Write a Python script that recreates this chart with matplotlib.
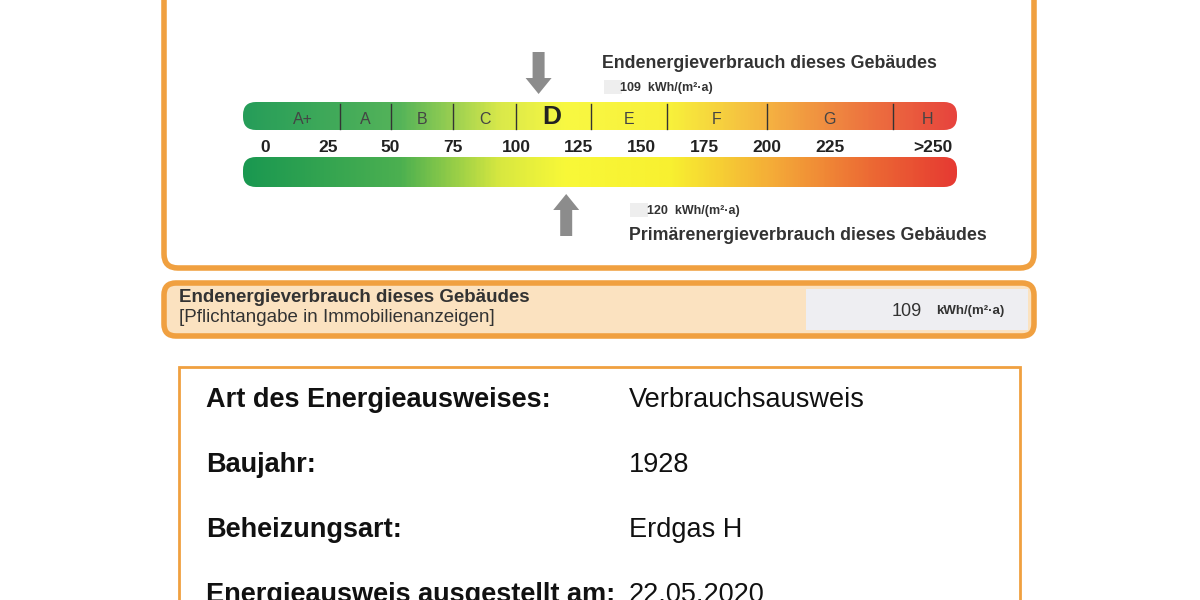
import numpy as np
import matplotlib.pyplot as plt
from matplotlib.patches import FancyBboxPatch, FancyArrow
from matplotlib.colors import LinearSegmentedColormap

plt.rcParams['font.family'] = ['Liberation Sans', 'DejaVu Sans']

# data
scale_ticks = [0, 25, 50, 75, 100, 125, 150, 175, 200, 225]
class_labels = ['A+', 'A', 'B', 'C', 'D', 'E', 'F', 'G', 'H']
class_limits = [0, 30, 50, 75, 100, 130, 160, 200, 250, 278]
end_energy = 109
primary_energy = 120
rating = 'D'
info_keys = ['Art des Energieausweises:', 'Baujahr:', 'Beheizungsart:', 'Energieausweis ausgestellt am:']
info_vals = ['Verbrauchsausweis', '1928', 'Erdgas H', '22.05.2020']

X0, PX = 265, 2.51   # pixel position of 0 and pixels per kWh


def vx(v):
    return X0 + v * PX


fig = plt.figure(figsize=(12, 6), dpi=100)
ax = fig.add_axes([0, 0, 1, 1])
ax.axis('off')

orange = '#f0a040'
# outer boxes
ax.add_patch(FancyBboxPatch((164, -30), 870, 298, boxstyle='round,pad=0,rounding_size=14',
                            fc='white', ec=orange, lw=4))
ax.add_patch(FancyBboxPatch((164, 283), 870, 53, boxstyle='round,pad=0,rounding_size=12',
                            fc='#fbe2c0', ec=orange, lw=4))
ax.add_patch(plt.Rectangle((806, 289), 222, 41, fc='#eeeef2', ec='none'))
ax.add_patch(plt.Rectangle((179, 367), 841, 260, fc='white', ec=orange, lw=2))

cmap = LinearSegmentedColormap.from_list('energy', [
    (0.0, '#1a9850'), (0.22, '#4cb050'), (0.36, '#d8e840'), (0.45, '#f8f838'),
    (0.6, '#f8f030'), (0.75, '#f4a838'), (0.88, '#ec6a34'), (1.0, '#e63a32')])
grad = np.linspace(0, 1, 400).reshape(1, -1)

for (y0, y1, alpha) in [(102, 130, 0.95), (157, 187, 1.0)]:
    clip = FancyBboxPatch((243, y0), 714, y1 - y0, boxstyle='round,pad=0,rounding_size=13',
                          fc='none', ec='none')
    ax.add_patch(clip)
    ax.imshow(grad, extent=(243, 957, y1, y0), cmap=cmap, aspect='auto', alpha=alpha,
              clip_path=clip, zorder=2)

# class separators and labels
for i, lab in enumerate(class_labels):
    if i > 0:
        ax.plot([vx(class_limits[i])] * 2, [104, 129], color='#333333', lw=1, zorder=3)
    cx = (vx(class_limits[i]) + vx(class_limits[i + 1])) / 2
    if lab == rating:
        ax.text(cx - 2, 117, lab, ha='center', va='center', fontsize=19, weight='bold',
                color='#222222', zorder=4)
    else:
        ax.text(cx, 120, lab, ha='center', va='center', fontsize=11.5, color='#444444', zorder=4)

for t in scale_ticks:
    ax.text(vx(t), 148, str(t), ha='center', va='center', fontsize=12.5, weight='bold', color='#222222')
ax.text(933, 148, '>250', ha='center', va='center', fontsize=12.5, weight='bold', color='#222222')

# arrows
gray = '#8c8c8c'
ax.add_patch(FancyArrow(vx(end_energy), 52, 0, 42, width=12, head_width=26, head_length=16,
                        length_includes_head=True, fc=gray, ec='none'))
ax.add_patch(FancyArrow(vx(primary_energy), 236, 0, -42, width=12, head_width=26, head_length=16,
                        length_includes_head=True, fc=gray, ec='none'))

ax.text(602, 64, 'Endenergieverbrauch dieses Gebäudes', fontsize=12.8, weight='bold',
        color='#333333', va='center')
ax.add_patch(plt.Rectangle((604, 80), 18, 14, fc='#eeeeee', ec='none'))
ax.text(620, 88, f'{end_energy}  kWh/(m²·a)', fontsize=9, weight='bold', color='#333333', va='center')
ax.add_patch(plt.Rectangle((630, 203), 18, 14, fc='#eeeeee', ec='none'))
ax.text(647, 211, f'{primary_energy}  kWh/(m²·a)', fontsize=9, weight='bold', color='#333333', va='center')
ax.text(629, 236, 'Primärenergieverbrauch dieses Gebäudes', fontsize=12.8, weight='bold',
        color='#333333', va='center')

ax.text(179, 298, 'Endenergieverbrauch dieses Gebäudes', fontsize=13.5, weight='bold',
        color='#333333', va='center')
ax.text(179, 318, '[Pflichtangabe in Immobilienanzeigen]', fontsize=13.5, color='#333333', va='center')
ax.text(922, 311, f'{end_energy}', fontsize=13, color='#333333', va='center', ha='right')
ax.text(936, 311, 'kWh/(m²·a)', fontsize=9.5, weight='bold', color='#333333', va='center')

for i, (k, v) in enumerate(zip(info_keys, info_vals)):
    y = 400 + i * 65
    ax.text(206, y, k, fontsize=19.5, weight='bold', color='#111111', va='center')
    ax.text(629, y, v, fontsize=19.5, color='#111111', va='center')

ax.set_xlim(0, 1200)
ax.set_ylim(600, 0)
fig.savefig('out.png', dpi=100)
